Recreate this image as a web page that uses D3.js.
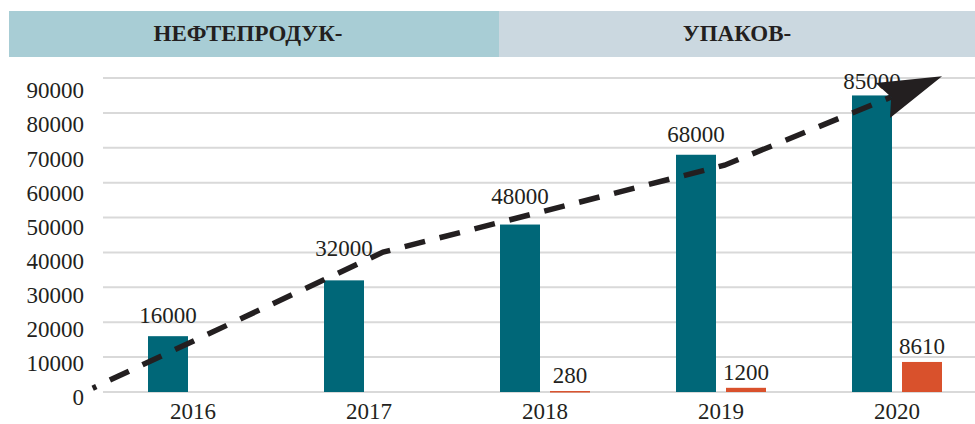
<!DOCTYPE html>
<html><head><meta charset="utf-8">
<script src="https://cdn.jsdelivr.net/npm/d3@7"></script>
<style>body{margin:0;background:#fff}svg{display:block}</style>
</head><body>
<svg id="c" width="975" height="424"></svg>
<script>
const years = ["2016","2017","2018","2019","2020"];
const oilValues = [16000, 32000, 48000, 68000, 85000];
const packValues = [null, null, 280, 1200, 8610];
const yTicks = [0,10000,20000,30000,40000,50000,60000,70000,80000,90000];
const headers = ["НЕФТЕПРОДУК-", "УПАКОВ-"];
// trend arrow path points: [category position (index), value]
const trendIdx = [-0.57, 1.08, 3.02, 4.256];
const trendVal = [1100, 40100, 65000, 90500];
// label lifts above bars (px), as in the original layout
const oilLift = [13, 24, 21, 13, 6];

const svg = d3.select("#c");
const W = 975;
const font = "'Liberation Serif','Times New Roman',serif";
const ink = "#231f20";
const fs = 23;

// header band
const hx = d3.scaleBand().domain(headers).range([9, 989]).paddingInner(0);
const hdr = svg.append("g");
const hColors = ["#a8cdd5", "#cbd8e0"];
hdr.selectAll("rect").data(headers).join("rect")
  .attr("x", d => hx(d)).attr("y", 11)
  .attr("width", (d,i) => i === 0 ? hx.bandwidth() : W - hx(d))
  .attr("height", 46)
  .attr("fill", (d,i) => hColors[i]);
hdr.selectAll("text").data(headers).join("text")
  .attr("x", (d,i) => i === 0 ? hx(d) + hx.bandwidth()/2 - 6 : (hx(d) + W)/2)
  .attr("y", 41)
  .attr("text-anchor", "middle")
  .attr("font-family", font).attr("font-weight", "bold")
  .attr("font-size", 23).attr("fill", ink)
  .text(d => d);

const x = d3.scaleBand().domain(years).range([105, 985]);
const y = d3.scaleLinear().domain([0, 90000]).range([392, 78]);
const yLab = d3.scaleLinear().domain([0, 90000]).range([397, 90]);
const barW = 40, gap = 10;
const cx = d => x(d) + x.bandwidth()/2;

// gridlines
svg.append("g").selectAll("line").data(yTicks).join("line")
  .attr("x1", 103).attr("x2", W)
  .attr("y1", d => y(d)).attr("y2", d => y(d))
  .attr("stroke", "#d9d9d9").attr("stroke-width", 2);

// y axis labels
const ya = svg.append("g").attr("transform", "translate(84,0)")
  .call(d3.axisLeft(yLab).tickValues(yTicks).tickSize(0).tickPadding(0).tickFormat(d3.format("d")));
ya.select(".domain").remove();
ya.selectAll("text").attr("font-family", font).attr("font-size", fs).attr("fill", ink).attr("dy", "0.34em");

// x axis labels
const xa = svg.append("g").attr("transform", "translate(0,398)")
  .call(d3.axisBottom(x).tickSize(0).tickPadding(0));
xa.select(".domain").remove();
xa.selectAll("text").attr("font-family", font).attr("font-size", fs).attr("fill", ink).attr("dy", "0.93em");

// bars
svg.append("g").selectAll("rect").data(years).join("rect")
  .attr("x", d => cx(d) - gap/2 - barW).attr("width", barW)
  .attr("y", (d,i) => y(oilValues[i])).attr("height", (d,i) => y(0) - y(oilValues[i]))
  .attr("fill", "#006778");
const packData = years.map((d,i) => ({c:d, v:packValues[i]})).filter(d => d.v != null);
svg.append("g").selectAll("rect").data(packData).join("rect")
  .attr("x", d => cx(d.c) + gap/2).attr("width", barW)
  .attr("y", d => y(d.v)).attr("height", d => Math.max(1.5, y(0) - y(d.v)))
  .attr("fill", "#d9512c");

// value labels
svg.append("g").selectAll("text").data(years).join("text")
  .attr("x", d => cx(d) - gap/2 - barW/2)
  .attr("y", (d,i) => y(oilValues[i]) - oilLift[i])
  .attr("text-anchor", "middle").attr("font-family", font).attr("font-size", fs).attr("fill", ink)
  .text((d,i) => oilValues[i]);
svg.append("g").selectAll("text").data(packData).join("text")
  .attr("x", d => cx(d.c) + gap/2 + barW/2)
  .attr("y", d => Math.min(y(d.v), y(0) - 1.5) - 8)
  .attr("text-anchor", "middle").attr("font-family", font).attr("font-size", fs).attr("fill", ink)
  .text(d => d.v);

// trend arrow
const px = i => x(years[0]) + x.bandwidth()/2 + i * x.step();
const pts = trendIdx.map((t,i) => [px(t), y(trendVal[i])]);
const tip = pts[pts.length-1], prev = pts[pts.length-2];
const dx = tip[0]-prev[0], dy = tip[1]-prev[1], L = Math.hypot(dx,dy);
const ux = dx/L, uy = dy/L, nx = -uy, ny = ux;
const headLen = 64, halfW = 19, notch = 9;
const base = [tip[0]-ux*headLen, tip[1]-uy*headLen];
const linePts = pts.slice(0,-1).concat([[base[0]+ux*notch, base[1]+uy*notch]]);
svg.append("path")
  .attr("d", d3.line()(linePts))
  .attr("fill", "none").attr("stroke", ink).attr("stroke-width", 5.5)
  .attr("stroke-dasharray", "21,15").attr("stroke-dashoffset", 17);
const head = [
  tip,
  [base[0]+nx*halfW, base[1]+ny*halfW],
  [base[0]+ux*notch, base[1]+uy*notch],
  [base[0]-nx*halfW, base[1]-ny*halfW]
];
svg.append("path").attr("d", d3.line()(head) + "Z").attr("fill", ink);
</script>
</body></html>
